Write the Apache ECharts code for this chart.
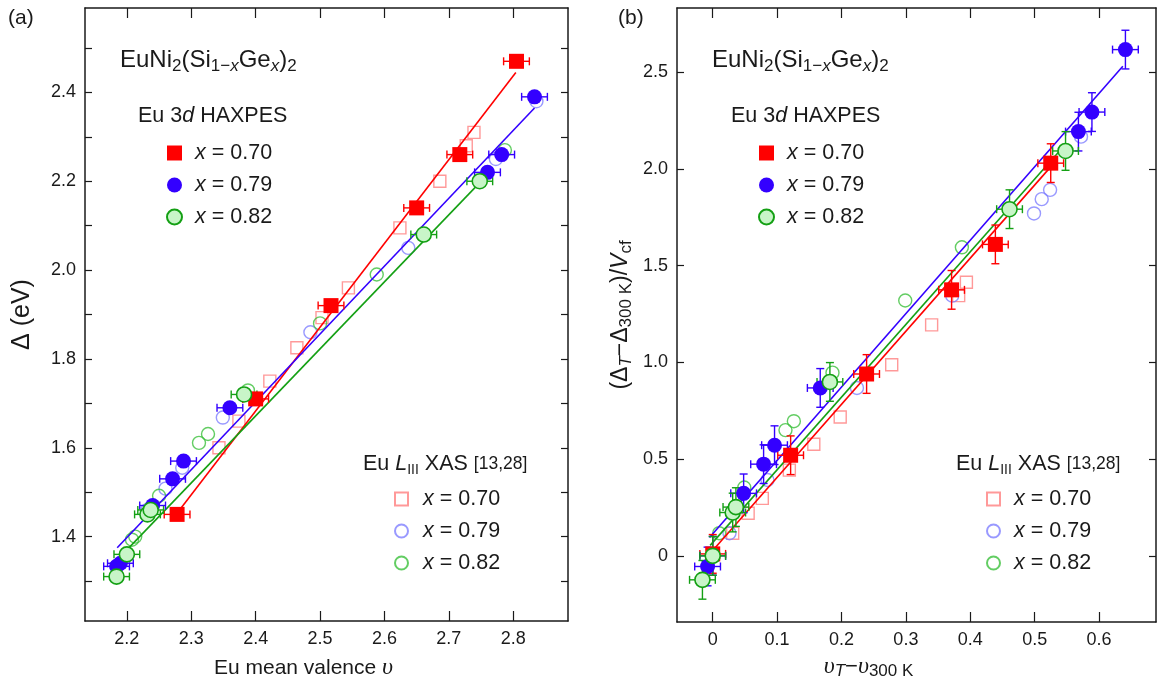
<!DOCTYPE html>
<html>
<head>
<meta charset="utf-8">
<script src="https://cdn.jsdelivr.net/npm/echarts@6/dist/echarts.min.js"></script>
<style>
  html, body { margin: 0; padding: 0; background: #ffffff; }
  #chart { width: 1157px; height: 685px; }
</style>
</head>
<body>
<div id="chart"></div>
<script>
// ---------------- Panel (a): Eu 3d HAXPES splitting Δ vs Eu mean valence ----------------
// Eu 3d HAXPES, x = 0.70
const haxA070_v = [2.278, 2.400, 2.517, 2.650, 2.717, 2.805];
const haxA070_d = [1.45, 1.71, 1.92, 2.14, 2.26, 2.47];
// Eu 3d HAXPES, x = 0.79
const haxA079_v = [2.184, 2.190, 2.240, 2.271, 2.288, 2.360, 2.760, 2.782, 2.833];
const haxA079_d = [1.333, 1.34, 1.47, 1.53, 1.57, 1.69, 2.22, 2.26, 2.39];
// Eu 3d HAXPES, x = 0.82
const haxA082_v = [2.184, 2.200, 2.232, 2.237, 2.382, 2.661, 2.748];
const haxA082_d = [1.31, 1.36, 1.45, 1.46, 1.72, 2.08, 2.20];
// Eu L_III XAS [13,28]
const xasA070_v = [2.343, 2.374, 2.422, 2.464, 2.503, 2.544, 2.624, 2.686, 2.727, 2.739];
const xasA070_d = [1.60, 1.66, 1.75, 1.825, 1.893, 1.96, 2.095, 2.20, 2.28, 2.31];
const xasA079_v = [2.232, 2.260, 2.286, 2.349, 2.485, 2.637, 2.773, 2.836];
const xasA079_d = [1.46, 1.508, 1.555, 1.668, 1.86, 2.05, 2.25, 2.38];
const xasA082_v = [2.208, 2.213, 2.250, 2.312, 2.326, 2.388, 2.500, 2.588, 2.787];
const xasA082_d = [1.393, 1.40, 1.492, 1.611, 1.631, 1.729, 1.88, 1.99, 2.27];
// Linear fits (end points)
const fitA070 = [[2.283, 1.462], [2.804, 2.445]];
const fitA079 = [[2.185, 1.375], [2.833, 2.365]];
const fitA082 = [[2.190, 1.355], [2.748, 2.197]];

// ---------------- Panel (b): (Δ_T − Δ_300K)/V_cf vs υ_T − υ_300K ----------------
const haxB070_x = [0.000, 0.121, 0.239, 0.371, 0.439, 0.525];
const haxB070_y = [0.01, 0.52, 0.94, 1.375, 1.61, 2.03];
const haxB079_x = [-0.008, 0.000, 0.048, 0.079, 0.096, 0.167, 0.568, 0.589, 0.641];
const haxB079_y = [-0.055, 0.0, 0.323, 0.474, 0.572, 0.868, 2.193, 2.294, 2.617];
const haxB082_x = [-0.016, 0.000, 0.031, 0.036, 0.182, 0.461, 0.548];
const haxB082_y = [-0.124, 0.0, 0.224, 0.252, 0.899, 1.792, 2.093];
const xasB070_x = [0.031, 0.055, 0.077, 0.119, 0.157, 0.198, 0.278, 0.340, 0.382, 0.394];
const xasB070_y = [0.117, 0.220, 0.297, 0.443, 0.577, 0.718, 0.988, 1.194, 1.345, 1.414];
const xasB079_x = [0.026, 0.085, 0.224, 0.372, 0.499, 0.511, 0.524, 0.572];
const xasB079_y = [0.117, 0.392, 0.868, 1.345, 1.770, 1.844, 1.892, 2.167];
const xasB082_x = [0.010, 0.049, 0.113, 0.126, 0.186, 0.299, 0.387];
const xasB082_y = [0.117, 0.353, 0.650, 0.696, 0.947, 1.320, 1.595];
const fitB070 = [[0.000, 0.028], [0.530, 2.030]];
const fitB079 = [[-0.005, 0.095], [0.637, 2.531]];
const fitB082 = [[-0.004, 0.054], [0.538, 2.090]];

// Uncertainties of the HAXPES points
const valenceErr = 0.02;   // υ (both panels)
const ratioErr = 0.1;      // (Δ_T − Δ_300K)/V_cf

// Axis ticks and labels
const ticksA_x = [2.2, 2.3, 2.4, 2.5, 2.6, 2.7, 2.8];
const ticksA_y = [1.3, 1.4, 1.5, 1.6, 1.7, 1.8, 1.9, 2.0, 2.1, 2.2, 2.3, 2.4, 2.5];
const labelsA_y = [1.4, 1.6, 1.8, 2.0, 2.2, 2.4];
const ticksB_x = [0, 0.1, 0.2, 0.3, 0.4, 0.5, 0.6];
const ticksB_y = [0, 0.5, 1.0, 1.5, 2.0, 2.5];

const F = '"Liberation Sans", Arial, Helvetica, sans-serif';
const FSERIF = '"Liberation Serif", "DejaVu Serif", serif';
const INK = '#1a1a1a';
const RED = '#ff0000', BLUE = '#3300ff', GREEN = '#14a014', GREEN_FILL = '#c8f5c8';
const RED_OPEN = '#ff7f7f', BLUE_OPEN = '#8080ff', GREEN_OPEN = '#3cc03c';

const pairs = (xs, ys) => xs.map((x, i) => [x, ys[i]]);

function errRender(color, withY) {
  return function (params, api) {
    const x = api.value(0), y = api.value(1), ex = api.value(2), ey = api.value(3);
    const c = api.coord([x, y]);
    const xl = api.coord([x - ex, y])[0], xr = api.coord([x + ex, y])[0];
    const cap = 4;
    const st = { stroke: color, lineWidth: 1.4 };
    const ln = (x1, y1, x2, y2) => ({ type: 'line', shape: { x1, y1, x2, y2 }, style: st });
    const ch = [
      ln(xl, c[1], xr, c[1]),
      ln(xl, c[1] - cap, xl, c[1] + cap),
      ln(xr, c[1] - cap, xr, c[1] + cap)
    ];
    if (withY) {
      const yt = api.coord([x, y + ey])[1], yb = api.coord([x, y - ey])[1];
      ch.push(ln(c[0], yt, c[0], yb), ln(c[0] - cap, yt, c[0] + cap, yt), ln(c[0] - cap, yb, c[0] + cap, yb));
    }
    return { type: 'group', children: ch };
  };
}

function axisX(grid, min, max, ticks, pos, labels, name) {
  return {
    type: 'value', gridIndex: grid, min, max, position: pos,
    axisLine: { show: true, onZero: false, lineStyle: { color: INK, width: 1.5 } },
    axisTick: { show: true, inside: true, length: 10, customValues: ticks, lineStyle: { color: INK, width: 1.2 } },
    axisLabel: labels ? {
      show: true, customValues: labels, margin: 9, color: INK, fontSize: 18, fontFamily: F,
      formatter: v => (Math.abs(v) < 1e-9 ? '0' : v.toFixed(1))
    } : { show: false },
    splitLine: { show: false },
    ...(name || {})
  };
}
function axisY(grid, min, max, ticks, pos, labels, name) {
  return {
    type: 'value', gridIndex: grid, min, max, position: pos,
    axisLine: { show: true, onZero: false, lineStyle: { color: INK, width: 1.5 } },
    axisTick: { show: true, inside: true, length: 7, customValues: ticks, lineStyle: { color: INK, width: 1.2 } },
    axisLabel: labels ? {
      show: true, customValues: labels, margin: 9, color: INK, fontSize: 18, fontFamily: F,
      formatter: v => (Math.abs(v) < 1e-9 ? '0' : v.toFixed(1))
    } : { show: false },
    splitLine: { show: false },
    ...(name || {})
  };
}

const richBase = {
  t: { fontSize: 21, fontFamily: F, color: INK, lineHeight: 26 },
  tb: { fontSize: 22, fontFamily: F, color: INK, lineHeight: 26 },
  tl: { fontSize: 25, fontFamily: F, color: INK, lineHeight: 30 },
  ty: { fontSize: 23, fontFamily: F, color: INK, lineHeight: 28 },
  tyi: { fontSize: 23, fontFamily: F, fontStyle: 'italic', color: INK, lineHeight: 28 },
  v: { fontSize: 24, fontFamily: FSERIF, fontStyle: 'italic', color: INK, lineHeight: 26 },
  sb: { fontSize: 17, fontFamily: F, color: INK, lineHeight: 16, verticalAlign: 'bottom' },
  sib: { fontSize: 17, fontFamily: F, fontStyle: 'italic', color: INK, lineHeight: 16, verticalAlign: 'bottom' }
};

const xAxes = [
  axisX(0, 2.135, 2.885, ticksA_x, 'bottom', ticksA_x, {
    name: '{t|Eu mean valence }{v|υ}', nameLocation: 'middle', nameGap: 34,
    nameTextStyle: { padding: [0, 46, 0, 0], rich: richBase }
  }),
  axisX(0, 2.135, 2.885, ticksA_x, 'top', null),
  axisX(1, -0.0555, 0.6885, ticksB_x, 'bottom', ticksB_x, {
    name: '{v|υ}{sib|T}{tb|−}{v|υ}{sb|300 K}', nameLocation: 'middle', nameGap: 32,
    nameTextStyle: { padding: [0, 96, 0, 0], rich: richBase }
  }),
  axisX(1, -0.0555, 0.6885, ticksB_x, 'top', null)
];
const yAxes = [
  axisY(0, 1.21, 2.59, ticksA_y, 'left', labelsA_y, {
    name: '{tl|Δ (eV)}', nameLocation: 'middle', nameRotate: 90, nameGap: 48,
    nameTextStyle: { rich: richBase }
  }),
  axisY(0, 1.21, 2.59, ticksA_y, 'right', null),
  axisY(1, -0.342, 2.832, ticksB_y, 'left', ticksB_y, {
    name: '{ty|(Δ}{sib|T}{ty|−Δ}{sb|300 K}{ty|)/}{tyi|V}{sb|cf}', nameLocation: 'middle', nameRotate: 90, nameGap: 42,
    nameTextStyle: { rich: richBase }
  }),
  axisY(1, -0.342, 2.832, ticksB_y, 'right', null)
];

function panelSeries(p, sets) {
  const xi = p === 0 ? 0 : 2, yi = p === 0 ? 0 : 2;
  const out = [];
  // open XAS markers
  out.push({ name: 'X070', type: 'scatter', xAxisIndex: xi, yAxisIndex: yi, z: 2, symbol: 'rect', symbolSize: 12,
    itemStyle: { color: 'rgba(255,255,255,0)', borderColor: RED_OPEN, borderWidth: 1.4 }, data: sets.x070 });
  out.push({ name: 'X079', type: 'scatter', xAxisIndex: xi, yAxisIndex: yi, z: 2, symbol: 'circle', symbolSize: 13,
    itemStyle: { color: 'rgba(255,255,255,0)', borderColor: BLUE_OPEN, borderWidth: 1.4 }, data: sets.x079 });
  out.push({ name: 'X082', type: 'scatter', xAxisIndex: xi, yAxisIndex: yi, z: 2, symbol: 'circle', symbolSize: 13,
    itemStyle: { color: 'rgba(255,255,255,0)', borderColor: GREEN_OPEN, borderWidth: 1.4 }, data: sets.x082 });
  // fit lines
  [[sets.f070, RED], [sets.f079, BLUE], [sets.f082, GREEN]].forEach(([d, c], k) => {
    out.push({ name: 'fit' + p + k, type: 'line', xAxisIndex: xi, yAxisIndex: yi, z: 3, data: d,
      symbol: 'none', silent: true, lineStyle: { color: c, width: 1.6 } });
  });
  // HAXPES points with error bars
  [['H070', sets.h070, RED, 'rect', RED, 0],
   ['H079', sets.h079, BLUE, 'circle', BLUE, 0],
   ['H082', sets.h082, GREEN_FILL, 'circle', GREEN, 1.6]].forEach(([nm, d, fill, sym, edge, bw]) => {
    out.push({ name: 'err' + p + nm, type: 'custom', xAxisIndex: xi, yAxisIndex: yi, z: 4, silent: true,
      renderItem: errRender(edge, p === 1),
      encode: { x: 0, y: 1 },
      data: d.map(q => [q[0], q[1], valenceErr, p === 1 ? ratioErr : 0]) });
    out.push({ name: nm, type: 'scatter', xAxisIndex: xi, yAxisIndex: yi, z: 5, symbol: sym,
      symbolSize: 15,
      itemStyle: { color: fill, borderColor: edge, borderWidth: bw, opacity: 1 }, data: d });
  });
  return out;
}

const series = [
  ...panelSeries(0, {
    x070: pairs(xasA070_v, xasA070_d), x079: pairs(xasA079_v, xasA079_d), x082: pairs(xasA082_v, xasA082_d),
    f070: fitA070, f079: fitA079, f082: fitA082,
    h070: pairs(haxA070_v, haxA070_d), h079: pairs(haxA079_v, haxA079_d), h082: pairs(haxA082_v, haxA082_d)
  }),
  ...panelSeries(1, {
    x070: pairs(xasB070_x, xasB070_y), x079: pairs(xasB079_x, xasB079_y), x082: pairs(xasB082_x, xasB082_y),
    f070: fitB070, f079: fitB079, f082: fitB082,
    h070: pairs(haxB070_x, haxB070_y), h079: pairs(haxB079_x, haxB079_y), h082: pairs(haxB082_x, haxB082_y)
  })
];

const legendLabel = {
  H070: '{i|x} = 0.70', H079: '{i|x} = 0.79', H082: '{i|x} = 0.82',
  X070: '{i|x} = 0.70', X079: '{i|x} = 0.79', X082: '{i|x} = 0.82'
};
function legend(left, top, names, icons, size, padLeft) {
  return {
    left, top, orient: 'vertical', padding: 0, itemGap: 10, itemWidth: size, itemHeight: size,
    selectedMode: false,
    data: names.map((n, i) => ({ name: n, icon: icons[i] })),
    formatter: n => legendLabel[n],
    textStyle: {
      fontSize: 21.5, fontFamily: F, color: INK, lineHeight: 22, padding: [0, 0, 0, padLeft],
      rich: { i: { fontSize: 21.5, fontFamily: F, fontStyle: 'italic', color: INK, lineHeight: 22 } }
    }
  };
}

const formulaRich = {
  m: { fontSize: 24, fontFamily: F, fill: INK, lineHeight: 30 },
  s: { fontSize: 17, fontFamily: F, fill: INK, lineHeight: 17, verticalAlign: 'bottom' },
  si: { fontSize: 17, fontFamily: F, fontStyle: 'italic', fill: INK, lineHeight: 17, verticalAlign: 'bottom' }
};
const headRich = {
  m: { fontSize: 21.5, fontFamily: F, fill: INK, lineHeight: 26 },
  mi: { fontSize: 21.5, fontFamily: F, fontStyle: 'italic', fill: INK, lineHeight: 26 },
  s: { fontSize: 14, fontFamily: F, fill: INK, lineHeight: 14, verticalAlign: 'bottom' },
  r: { fontSize: 17.5, fontFamily: F, fill: INK, lineHeight: 26 }
};
const FORMULA = '{m|EuNi}{s|2}{m|(Si}{s|1−}{si|x}{m|Ge}{si|x}{m|)}{s|2}';
const HAX_HEAD = '{m|Eu 3}{mi|d}{m| HAXPES}';
const XAS_HEAD = '{m|Eu }{mi|L}{s|III}{m| XAS }{r|[13,28]}';
const txt = (x, y, text, rich, extra) => ({
  type: 'text', x, y, silent: true,
  style: Object.assign({ text, rich, fill: INK, font: '21px ' + F, textVerticalAlign: 'middle' }, extra || {})
});

const option = {
  animation: false,
  backgroundColor: '#ffffff',
  grid: [
    { left: 85, top: 8, width: 483, height: 617 },
    { left: 677, top: 8, width: 479, height: 616 }
  ],
  xAxis: xAxes,
  yAxis: yAxes,
  legend: [
    legend(166, 142, ['H070', 'H079', 'H082'], ['rect', 'circle', 'circle'], 15, 8),
    legend(394, 488, ['X070', 'X079', 'X082'], ['rect', 'circle', 'circle'], 13, 10),
    legend(758, 142, ['H070', 'H079', 'H082'], ['rect', 'circle', 'circle'], 15, 8),
    legend(986, 488, ['X070', 'X079', 'X082'], ['rect', 'circle', 'circle'], 13, 9)
  ],
  graphic: [
    txt(8, 18, '(a)', null, { font: '21px ' + F }),
    txt(618, 18, '(b)', null, { font: '21px ' + F }),
    txt(120, 60, FORMULA, formulaRich),
    txt(712, 60, FORMULA, formulaRich),
    txt(138, 116, HAX_HEAD, headRich),
    txt(731, 116, HAX_HEAD, headRich),
    txt(363, 464, XAS_HEAD, headRich),
    txt(956, 464, XAS_HEAD, headRich)
  ],
  series
};

const chart = echarts.init(document.getElementById('chart'), null, { renderer: 'canvas' });
chart.setOption(option);
</script>
</body>
</html>
